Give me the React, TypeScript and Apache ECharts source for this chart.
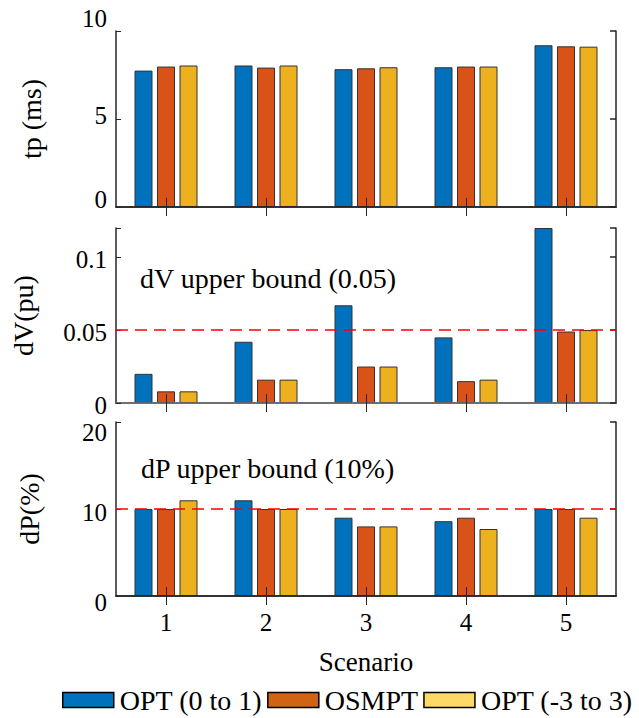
import React, { useEffect, useRef } from 'react';
import * as echarts from 'echarts';

const scenarios = ['1', '2', '3', '4', '5'];
const seriesNames = ['OPT (0 to 1)', 'OSMPT', 'OPT (-3 to 3)'];

const tpOpt01 = [7.75, 8.04, 7.83, 7.94, 9.19];
const tpOsmpt = [7.98, 7.92, 7.88, 7.98, 9.13];
const tpOpt33 = [8.04, 8.04, 7.94, 7.98, 9.11];

const dvOpt01 = [0.02, 0.042, 0.067, 0.045, 0.12];
const dvOsmpt = [0.008, 0.016, 0.025, 0.015, 0.049];
const dvOpt33 = [0.008, 0.016, 0.025, 0.016, 0.05];

const dpOpt01 = [10, 11, 9, 8.6, 10];
const dpOsmpt = [10, 10, 8, 9, 10];
const dpOpt33 = [11, 10, 8, 7.7, 9];

const dvBound = 0.05;
const dpBound = 10;

const FONT = 'Liberation Serif';
const AX = '#262626';
const barColors = ['#0072BD', '#D95319', '#EDB120'];
const legendColors = ['#0072BD', '#D06414', '#FFD966'];

export default function App() {
  const ref = useRef<HTMLDivElement>(null);
  useEffect(() => {
    if (!ref.current) return;
    const chart = echarts.init(ref.current, undefined, { renderer: 'svg' });
    const grids = [
      { left: 116, top: 31, width: 500, height: 176 },
      { left: 116, top: 228, width: 500, height: 175 },
      { left: 116, top: 422, width: 500, height: 174 },
    ];
    const xAxes: any[] = [];
    const yAxes: any[] = [];
    const series: any[] = [];
    const lineW = 1.5;
    const topLineColors = [AX, '#777', AX];
    for (let g = 0; g < 3; g++) {
      xAxes.push({
        type: 'category',
        gridIndex: g,
        data: scenarios,
        position: 'bottom',
        z: 5,
        axisLine: { show: true, lineStyle: { color: AX, width: lineW } },
        axisTick: { show: true, inside: true, length: 9, alignWithLabel: true, lineStyle: { color: AX, width: 1 } },
        axisLabel: {
          show: g === 2,
          margin: 14,
          fontSize: 25,
          fontFamily: FONT,
          color: '#000',
        },
        name: g === 2 ? 'Scenario' : '',
        nameLocation: 'middle',
        nameGap: 52,
        nameTextStyle: { fontSize: 27, fontFamily: FONT, color: '#000' },
        splitLine: { show: false },
      });
      xAxes.push({
        type: 'category',
        gridIndex: g,
        data: scenarios,
        position: 'top',
        z: 5,
        axisLine: { show: true, lineStyle: { color: topLineColors[g], width: lineW } },
        axisTick: { show: true, inside: true, length: 9, alignWithLabel: true, lineStyle: { color: AX, width: 1 } },
        axisLabel: { show: false },
        splitLine: { show: false },
      });
    }
    const yCfg = [
      {
        min: 0, max: 10, interval: 5, name: 'tp (ms)', nameGap: 71,
        fmt: (v: number) => (v === 10 ? '{a|10}' : v === 5 ? '{b|5}' : v === 0 ? '{c|0}' : ''),
        rich: {
          a: { padding: [0, 0, 26, 0] },
          b: { padding: [0, 0, 8, 0] },
          c: { padding: [0, 0, 16, 0] },
        },
      },
      {
        min: 0, max: 0.12, interval: 0.05, name: 'dV(pu)', nameGap: 79,
        fmt: (v: number) => {
          if (Math.abs(v - 0.12) < 1e-9) return '';
          return '{a|' + String(+v.toFixed(2)) + '}';
        },
        rich: { a: { padding: [4, 0, 0, 0] } },
      },
      {
        min: 0, max: 20, interval: 10, name: 'dP(%)', nameGap: 73,
        fmt: (v: number) => (v === 20 ? '{a|20}' : v === 10 ? '{b|10}' : v === 0 ? '{c|0}' : ''),
        rich: {
          a: { padding: [20, 0, 0, 0] },
          b: { padding: [6, 0, 0, 0] },
          c: { padding: [12, 0, 0, 0] },
        },
      },
    ];
    for (let g = 0; g < 3; g++) {
      const c = yCfg[g];
      const richStyled: any = {};
      Object.keys(c.rich).forEach((k) => {
        richStyled[k] = { ...(c.rich as any)[k], fontSize: 25, fontFamily: FONT, color: '#000' };
      });
      yAxes.push({
        type: 'value',
        gridIndex: g,
        position: 'left',
        min: c.min,
        max: c.max,
        interval: c.interval,
        z: 5,
        axisLine: { show: true, lineStyle: { color: AX, width: lineW } },
        axisTick: { show: true, inside: true, length: 5, lineStyle: { color: AX, width: 1 } },
        axisLabel: {
          show: true,
          margin: 9,
          fontSize: 25,
          fontFamily: FONT,
          color: '#000',
          formatter: c.fmt,
          rich: richStyled,
        },
        name: c.name,
        nameLocation: 'middle',
        nameGap: c.nameGap,
        nameRotate: 90,
        nameTextStyle: { fontSize: 28, fontFamily: FONT, color: '#000' },
        splitLine: { show: false },
      });
      yAxes.push({
        type: 'value',
        gridIndex: g,
        position: 'right',
        min: c.min,
        max: c.max,
        interval: c.interval,
        z: 5,
        axisLine: { show: true, lineStyle: { color: AX, width: lineW } },
        axisTick: { show: true, inside: true, length: 6, lineStyle: { color: AX, width: 1.5 } },
        axisLabel: { show: false },
        splitLine: { show: false },
      });
    }
    const panelData = [
      [tpOpt01, tpOsmpt, tpOpt33],
      [dvOpt01, dvOsmpt, dvOpt33],
      [dpOpt01, dpOsmpt, dpOpt33],
    ];
    const bounds = [null, dvBound, dpBound];
    for (let g = 0; g < 3; g++) {
      for (let s = 0; s < 3; s++) {
        const ser: any = {
          type: 'bar',
          name: seriesNames[s],
          xAxisIndex: g * 2,
          yAxisIndex: g * 2,
          data: panelData[g][s],
          barWidth: 18,
          barGap: '25%',
          itemStyle: { color: barColors[s], borderColor: '#333', borderWidth: 1 },
          emphasis: { disabled: true },
          clip: true,
        };
        if (s === 2 && bounds[g] !== null) {
          ser.markLine = {
            silent: true,
            symbol: ['none', 'none'],
            label: { show: false },
            lineStyle: { color: '#FF0000', type: [12, 7], width: 1.5 },
            data: [{ yAxis: bounds[g] }],
            z: 6,
          };
        }
        series.push(ser);
      }
    }
    const option: any = {
      animation: false,
      backgroundColor: '#fff',
      textStyle: { fontFamily: FONT },
      grid: grids,
      xAxis: xAxes,
      yAxis: yAxes,
      series,
      legend: {
        left: 62,
        top: 686,
        padding: 0,
        itemGap: 5,
        itemWidth: 51,
        itemHeight: 15,
        icon: 'rect',
        selectedMode: false,
        textStyle: { fontSize: 28, fontFamily: FONT, color: '#000', padding: [0, 0, 0, 1] },
        data: seriesNames.map((n, i) => ({
          name: n,
          itemStyle: { color: legendColors[i], borderColor: '#000', borderWidth: 1.5 },
        })),
      },
      graphic: [
        {
          type: 'text',
          x: 140,
          y: 278,
          z: 10,
          style: { text: 'dV upper bound (0.05)', fontSize: 28, fontFamily: FONT, fill: '#000', verticalAlign: 'middle' },
        },
        {
          type: 'text',
          x: 141,
          y: 468,
          z: 10,
          style: { text: 'dP upper bound (10%)', fontSize: 28, fontFamily: FONT, fill: '#000', verticalAlign: 'middle' },
        },
      ],
    };
    chart.setOption(option);
    return () => chart.dispose();
  }, []);
  return (
    <div
      ref={ref}
      style={{ position: 'fixed', left: 0, top: 0, width: 639, height: 718, background: '#fff' }}
    />
  );
}
